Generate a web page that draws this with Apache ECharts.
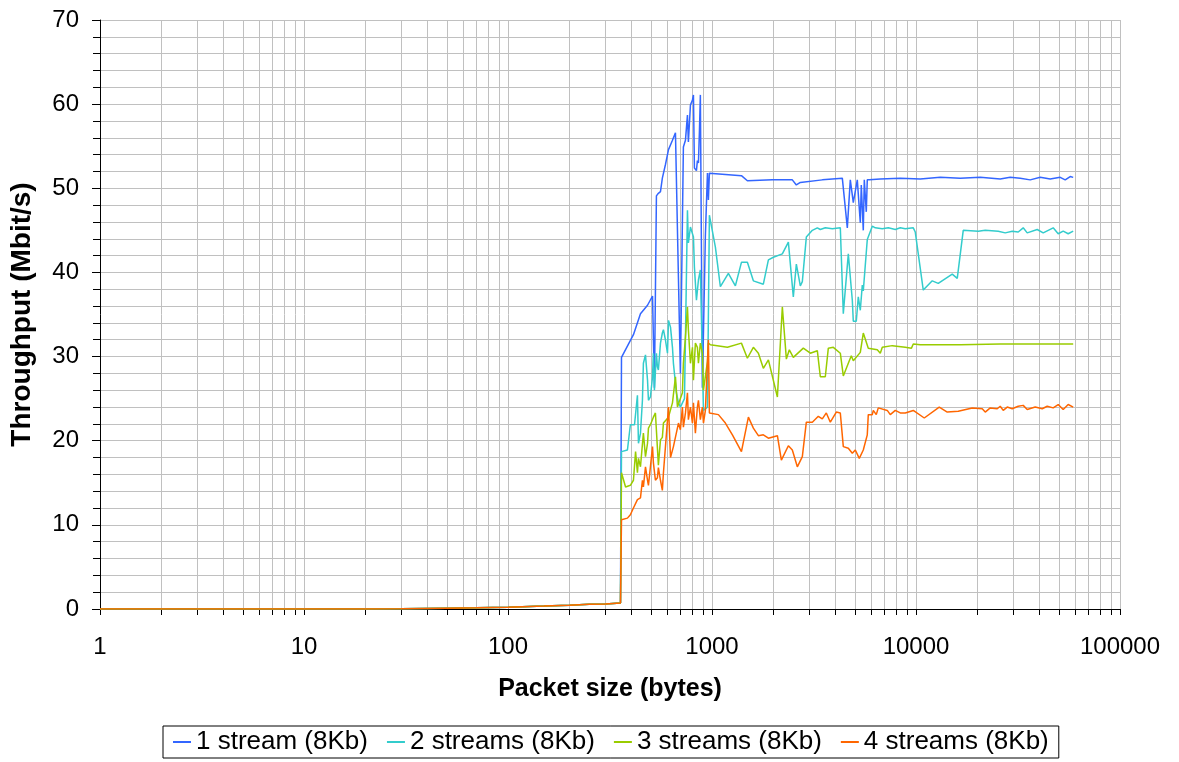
<!DOCTYPE html>
<html><head><meta charset="utf-8">
<script src="https://cdn.jsdelivr.net/npm/echarts@6/dist/echarts.min.js"></script>
<style>html,body{margin:0;padding:0;background:#fff}#c{width:1179px;height:762px}</style>
</head><body><div id="c"></div>
<script>
const seriesNames = ['1 stream (8Kb)', '2 streams (8Kb)', '3 streams (8Kb)', '4 streams (8Kb)'];
const xTickLabels = ['1', '10', '100', '1000', '10000', '100000'];
const yTickLabels = ['0', '10', '20', '30', '40', '50', '60', '70'];

// common small-packet part (bytes, Mbit/s)
const lowX = [1, 2, 3, 5, 10, 20, 30, 50, 70, 100, 150, 200, 250, 300, 356];
const lowY = [0, 0, 0, 0, 0, 0.01, 0.02, 0.1, 0.15, 0.22, 0.35, 0.45, 0.55, 0.6, 0.7];

const s1X = [360,412,446,483,511,522,534,546,559,571,591,612,640,662,677,700,724,741,758,766,784,802,811,820,839,848,858,868,877,897,928,939,950,960,971,993,1394,1491,1976,2476,2591,2710,3473,4353,4606,4764,4928,5155,5333,5393,5516,5579,5706,5770,5902,6683,8374,10494,13150,16478,20649,25875,28965,32425,36297,40632,45484,50917,53871,56998,58959];
const s1Y = [29.9,32.6,35.1,36.1,37.2,26.3,49.1,49.4,49.6,51.2,52.8,54.6,55.7,56.6,56.6,28.0,54.9,55.7,58.7,55.5,59.9,60.5,61.1,52.4,52.1,53.3,53.0,56.9,61.1,26.3,44.4,44.6,51.8,48.6,51.8,51.8,51.5,50.9,51.0,51.0,50.4,50.7,51.0,51.2,45.3,51.0,48.3,51.0,45.9,50.4,45.0,51.0,47.2,51.0,51.0,51.1,51.2,51.1,51.3,51.2,51.3,51.1,51.3,51.2,51.0,51.3,51.1,51.3,51.0,51.4,51.3];

const s2X = [360,385,398,417,431,436,446,456,461,472,483,488,499,511,516,522,534,540,546,559,571,578,591,605,612,626,640,647,669,685,700,733,758,766,784,811,820,839,858,877,908,950,971,1039,1099,1203,1302,1394,1491,1595,1785,1890,1999,2212,2368,2504,2591,2710,2772,2900,3103,3283,3396,3593,3889,4256,4402,4658,4873,4928,5097,5213,5333,5455,5516,5770,6106,6316,6835,7313,7915,8374,8860,9696,9918,10855,12015,12856,15056,15929,17045,20188,21847,25297,27377,29625,31700,33540,35088,39279,42030,47049,49779,52669,55724,58959];
const s2Y = [18.7,18.9,21.9,21.9,25.4,19.7,20.9,24.8,29.2,30.2,27.2,24.8,25.2,27.6,30.4,26.0,30.4,28.8,28.4,31.6,32.8,33.2,32.0,30.4,34.3,33.5,31.1,29.2,25.7,24.5,24.0,25.0,47.4,43.5,45.4,44.2,40.6,36.7,39.1,40.3,23.6,24.0,46.8,43.0,38.3,39.9,38.4,41.2,41.2,39.0,38.6,41.5,41.8,42.2,43.6,37.1,41.0,38.4,38.9,44.2,45.0,45.3,45.1,45.3,45.2,45.3,35.1,42.2,36.7,34.2,34.2,37.1,35.5,38.5,37.8,43.9,45.5,45.3,45.2,45.3,45.1,45.3,45.2,45.3,44.8,37.9,39.0,38.7,39.8,39.3,45.0,44.9,45.0,44.9,44.7,44.9,44.8,45.3,44.7,45.1,44.7,45.3,44.6,44.9,44.6,44.9];

const s3X = [360,377,398,412,422,431,436,446,461,472,483,488,499,516,528,540,546,559,571,578,591,612,640,662,677,692,716,724,741,758,766,784,802,811,829,848,858,877,897,908,950,960,982,1190,1394,1491,1595,1688,1785,1890,2092,2212,2315,2394,2504,2803,3034,3283,3396,3593,3717,3933,4256,4402,4658,4818,4928,5333,5516,5836,6460,6683,6835,7652,8860,9500,9696,10494,16478,25875,40632,58959];
const s3Y = [16.2,14.5,14.7,15.3,18.7,16.2,17.9,16.9,20.9,18.1,19.7,21.5,21.9,22.8,23.3,23.4,17.1,20.1,20.4,22.1,22.2,22.8,24.5,27.6,24.0,24.2,25.7,29.2,32.3,35.9,33.2,29.2,31.1,27.2,31.6,31.1,29.2,31.6,30.4,26.0,29.4,31.6,31.4,31.1,31.6,29.8,31.1,30.4,28.6,29.6,25.2,35.9,29.7,30.8,29.9,31.0,30.4,30.7,27.6,27.6,31.0,31.1,30.4,27.7,29.2,30.1,29.5,30.5,32.8,31.0,30.8,30.4,31.1,31.3,31.1,31.0,31.5,31.4,31.4,31.5,31.5,31.5];

const s4X = [360,385,398,412,431,446,456,461,472,483,488,499,511,516,528,540,546,559,571,578,591,612,626,647,685,700,716,724,741,758,766,784,802,811,829,848,858,877,897,908,928,960,971,982,1075,1163,1259,1394,1508,1595,1688,1785,1890,2092,2188,2368,2476,2620,2772,2900,3103,3320,3473,3634,3802,4068,4256,4402,4658,4873,5040,5272,5516,5770,5836,6106,6175,6387,6533,7231,7481,7915,8374,8860,9696,10978,13000,14230,16110,18866,21120,21847,23115,25014,25875,26765,28001,29625,31700,33540,35088,38403,41558,43970,47049,49779,52669,55724,58959];
const s4Y = [10.6,10.8,11.2,12.0,13.0,13.2,15.3,14.5,16.9,15.3,14.7,16.9,19.3,17.4,15.3,15.6,16.8,15.3,14.1,16.2,16.2,24.0,18.0,19.3,22.1,21.3,24.0,21.6,23.3,25.7,22.5,24.0,22.1,24.5,20.9,24.0,24.8,22.5,24.0,22.1,23.6,32.0,23.3,23.4,23.1,22.1,20.7,18.7,22.8,21.5,20.6,20.7,20.3,20.6,17.7,19.4,18.9,16.9,18.1,22.2,22.2,22.9,22.6,23.3,22.2,23.4,23.3,19.3,19.1,18.5,18.9,17.9,18.9,20.7,23.1,23.1,23.6,23.1,23.9,23.6,23.1,23.6,23.3,23.3,23.6,22.7,24.0,23.4,23.5,23.9,23.8,23.4,23.9,23.8,24.1,23.6,24.0,23.8,24.1,24.2,23.7,24.0,23.8,24.1,23.9,24.3,23.7,24.3,24.0];

const colors = ['#3366ff', '#33cccc', '#99cc00', '#ff6600'];

// minor log gridline positions (2..9 of each decade)
const minorTickValues = [];
for (let d = 1; d < 100000; d *= 10) for (let k = 2; k <= 9; k++) minorTickValues.push(k * d);

const FONT = 'Liberation Sans, Arial, sans-serif';
const GRID = '#c0c0c0';

function build(xs, ys) {
  const all = lowX.concat(xs), vals = lowY.concat(ys);
  return all.map((x, i) => [x, vals[i]]);
}
const sx = [s1X, s2X, s3X, s4X], sy = [s1Y, s2Y, s3Y, s4Y];

const chart = echarts.init(document.getElementById('c'), null, {renderer: 'canvas'});
const lineSeries = seriesNames.map((n, i) => ({
  name: n, type: 'line', data: build(sx[i], sy[i]), showSymbol: false, symbol: 'none',
  lineStyle: {color: colors[i], width: 1.5}, itemStyle: {color: colors[i]}, z: 3, animation: false
}));

chart.setOption({
  animation: false,
  grid: {left: 99, right: 59, top: 20, bottom: 153, containLabel: false},
  legend: {
    data: seriesNames, left: 163, bottom: 4, orient: 'horizontal',
    padding: [3, 10, 3, 10], itemGap: 19, itemWidth: 18, itemHeight: 2, icon: 'rect',
    borderColor: '#000', borderWidth: 1,
    textStyle: {fontFamily: FONT, fontSize: 26, color: '#000'}
  },
  xAxis: {
    type: 'log', logBase: 10, min: 1, max: 100000, splitNumber: 5,
    name: 'Packet size (bytes)', nameLocation: 'middle', nameGap: 68,
    nameTextStyle: {fontFamily: FONT, fontSize: 25, fontWeight: 'bold', color: '#000'},
    axisLine: {show: true, onZero: false, lineStyle: {color: '#000', width: 1}},
    axisTick: {show: true, inside: false, length: 6, lineStyle: {color: '#000'}},
    axisLabel: {fontFamily: FONT, fontSize: 24, color: '#000', margin: 26,
      formatter: v => { const i = Math.round(Math.log10(v)); return xTickLabels[i] !== undefined ? xTickLabels[i] : ''; }},
    splitLine: {show: true, lineStyle: {color: GRID, width: 1}},
    minorTick: {show: false}
  },
  yAxis: {
    type: 'value', min: 0, max: 70, interval: 10,
    name: 'Throughput (Mbit/s)', nameLocation: 'middle', nameGap: 64, nameRotate: 90,
    nameTextStyle: {fontFamily: FONT, fontSize: 28, fontWeight: 'bold', color: '#000'},
    axisLine: {show: true, lineStyle: {color: '#000', width: 1}},
    axisTick: {show: true, inside: false, length: 8, lineStyle: {color: '#000'}},
    minorTick: {show: true, splitNumber: 5, length: 7, lineStyle: {color: '#000'}},
    axisLabel: {fontFamily: FONT, fontSize: 24, color: '#000', margin: 21,
      formatter: v => yTickLabels[Math.round(v / 10)]},
    splitLine: {show: true, lineStyle: {color: GRID, width: 1}},
    minorSplitLine: {show: true, lineStyle: {color: GRID, width: 1}}
  },
  series: [{
    name: 'minor', type: 'custom', z: 1, silent: true, clip: false, animation: false,
    data: minorTickValues.map(v => [v, 0]),
    renderItem: function (params, api) {
      const v = api.value(0);
      const b = api.coord([v, 0]);
      const t = api.coord([v, 70]);
      const x = Math.round(b[0]) + 0.5;
      return {type: 'group', children: [
        {type: 'line', shape: {x1: x, y1: t[1], x2: x, y2: b[1]}, style: {stroke: GRID, lineWidth: 1}},
        {type: 'line', shape: {x1: x, y1: b[1], x2: x, y2: b[1] + 6}, style: {stroke: '#000', lineWidth: 1}}
      ]};
    }
  }].concat(lineSeries)
});
</script></body></html>
